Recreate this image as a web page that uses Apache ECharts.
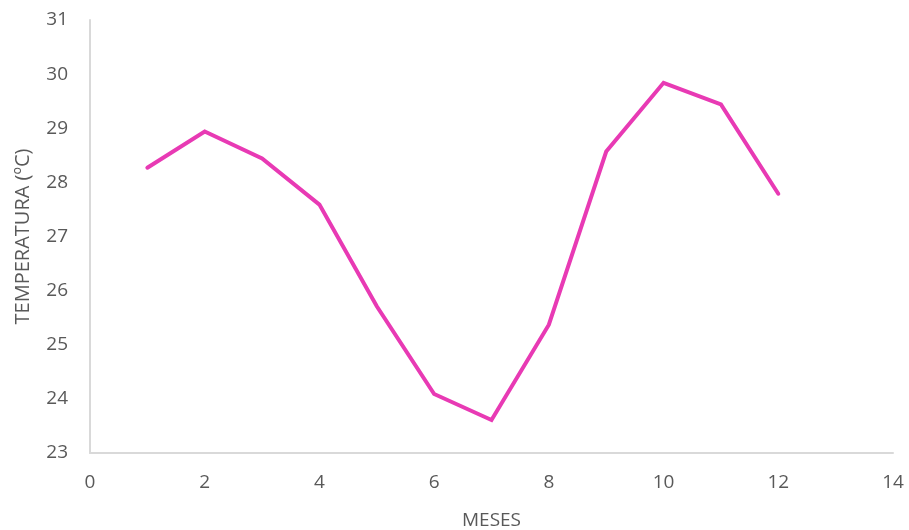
<!DOCTYPE html>
<html>
<head>
<meta charset="utf-8">
<script src="https://cdn.jsdelivr.net/npm/echarts@6/dist/echarts.min.js"></script>
<style>
  html, body { margin: 0; padding: 0; background: #fff; }
  #chart { width: 909px; height: 530px; }
</style>
</head>
<body>
<div id="chart"></div>
<script>
// Mean monthly temperature
const months = [1, 2, 3, 4, 5, 6, 7, 8, 9, 10, 11, 12];
const temperatures = [28.27, 28.94, 28.44, 27.59, 25.71, 24.09, 23.61, 25.37, 28.57, 29.84, 29.44, 27.79];

const xAxisTitle = 'MESES';
const yAxisTitle = 'TEMPERATURA (ºC)';

const points = months.map((m, i) => [m, temperatures[i]]);
const font = '"Open Sans", Lato, sans-serif';

const chart = echarts.init(document.getElementById('chart'));
chart.setOption({
  animation: false,
  grid: { left: 90, right: 16, top: 20, bottom: 77, containLabel: false, outerBoundsMode: 'none' },
  xAxis: {
    type: 'value',
    min: 0, max: 14, interval: 2,
    name: xAxisTitle,
    nameLocation: 'middle',
    nameGap: 58,
    nameTextStyle: { color: '#595959', fontSize: 19, fontFamily: font },
    axisLine: { show: true, lineStyle: { color: '#D9D9D9', width: 2 } },
    axisTick: { show: false },
    splitLine: { show: false },
    axisLabel: { color: '#595959', fontSize: 19, fontFamily: font, margin: 20 }
  },
  yAxis: {
    type: 'value',
    min: 23, max: 31, interval: 1,
    name: yAxisTitle,
    nameLocation: 'middle',
    nameGap: 57,
    nameTextStyle: { color: '#595959', fontSize: 20, fontFamily: font },
    axisLine: { show: true, lineStyle: { color: '#D9D9D9', width: 2 } },
    axisTick: { show: false },
    splitLine: { show: false },
    axisLabel: { color: '#595959', fontSize: 19, fontFamily: font, margin: 22 }
  },
  series: [{
    type: 'line',
    data: points,
    showSymbol: false,
    lineStyle: { color: '#E83AB4', width: 4, cap: 'round', join: 'miter' }
  }]
});
</script>
</body>
</html>
